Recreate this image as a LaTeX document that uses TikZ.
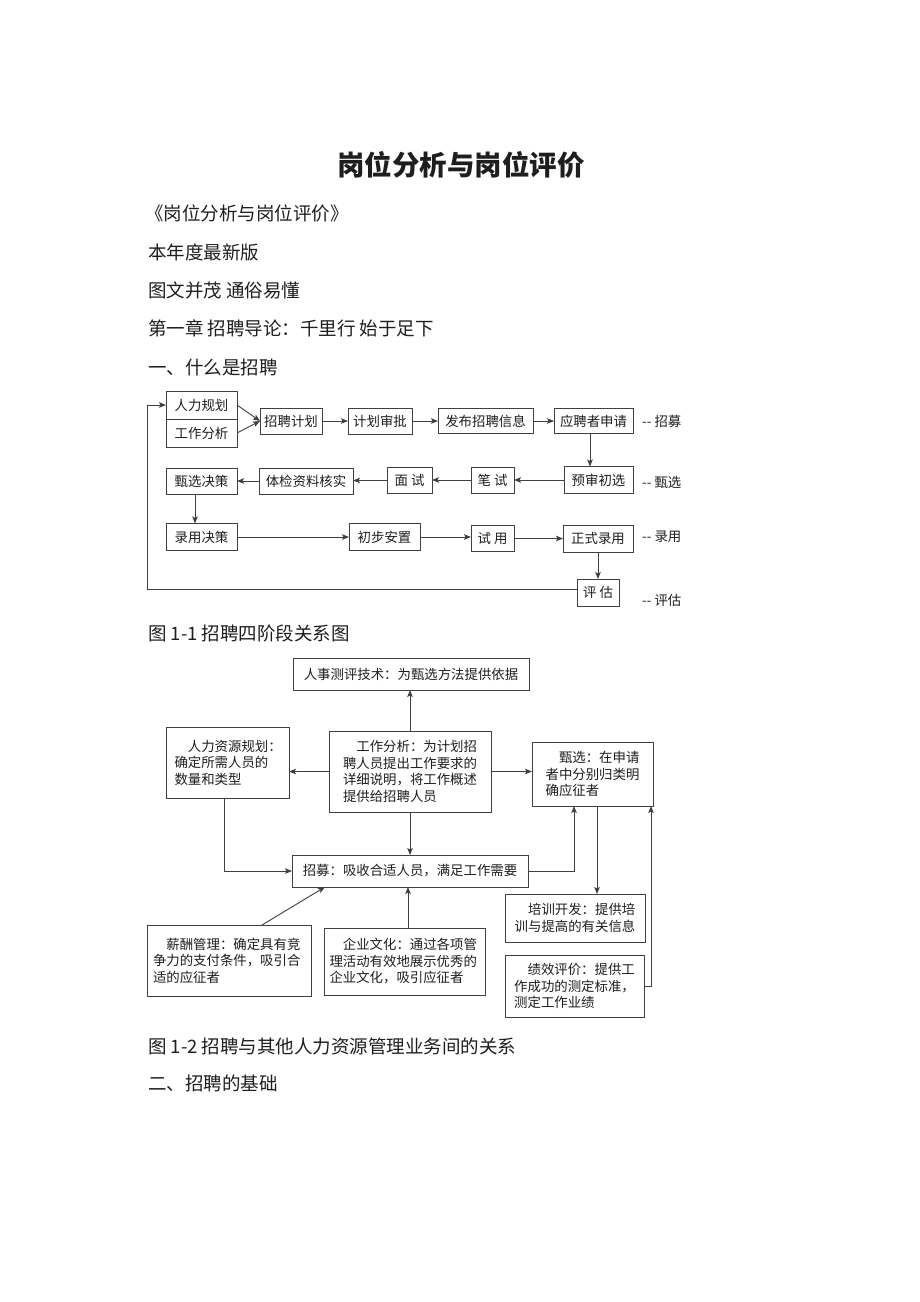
\documentclass[tikz,border=0pt]{standalone}
\usepackage{fontspec}
\setmainfont{Noto Sans CJK SC}
\usetikzlibrary{arrows.meta}
\newcommand\dgfont{\fontsize{13.4}{16.5}\selectfont}
\definecolor{linec}{HTML}{404040}
\definecolor{txt}{HTML}{1E1E1E}
\begin{document}
\begin{tikzpicture}[x=1pt,y=-1pt,
  box/.style={draw=linec, line width=0.95pt, inner sep=0pt, outer sep=0pt, font=\dgfont, text=txt},
  mbox/.style={box, align=left},
  arr/.style={draw=linec, line width=0.9pt, -{Stealth[length=7pt,width=5.5pt,inset=1.5pt]}},
  para/.style={anchor=west, inner sep=0pt, font=\fontsize{18.5}{22}\selectfont, text=txt},
  lbl/.style={anchor=west, inner sep=0pt, font=\dgfont, text=txt}]
\useasboundingbox[fill=white] (0,0) rectangle (920,1302);

% ---------- text ----------
\node[inner sep=0pt, font=\fontsize{27.5}{30}\selectfont\bfseries, text=txt] (title) at (461,165) {岗位分析与岗位评价};
\node[para] (p1) at (145,213) {《岗位分析与岗位评价》};
\node[para] (p2) at (148,252) {本年度最新版};
\node[para] (p3) at (148,290) {图文并茂 通俗易懂};
\node[para] (p4) at (148,328) {第一章 招聘导论：千里行 始于足下};
\node[para] (p5) at (148,367) {一、什么是招聘};
\node[para] (c1) at (148,633) {图 1-1 招聘四阶段关系图};
\node[para] (c2) at (148,1046) {图 1-2 招聘与其他人力资源管理业务间的关系};
\node[para] (p6) at (148,1083) {二、招聘的基础};

% ---------- diagram 1 ----------
\node[box, minimum width=71pt, minimum height=28pt] (rlgh) at (201.5,405) {人力规划};
\node[box, minimum width=71pt, minimum height=28pt] (gzfx1) at (201.5,433) {工作分析};
\node[box, minimum width=62pt, minimum height=26pt] (zpjh) at (291,421) {招聘计划};
\node[box, minimum width=64pt, minimum height=26pt] (jhsp) at (380,421) {计划审批};
\node[box, minimum width=95pt, minimum height=25pt] (fbxx) at (485.5,421) {发布招聘信息};
\node[box, minimum width=79pt, minimum height=25pt] (ypsq) at (593.5,421) {应聘者申请};
\node[lbl] (lzm) at (642,421) {-{}- 招募};

\node[box, minimum width=69pt, minimum height=27pt] (yscx) at (598.5,480) {预审初选};
\node[box, minimum width=43pt, minimum height=26pt] (bs) at (492.5,480) {笔 试};
\node[box, minimum width=45pt, minimum height=26pt] (ms) at (409.5,480.5) {面 试};
\node[box, minimum width=94pt, minimum height=26pt] (tjzl) at (306,481) {体检资料核实};
\node[box, minimum width=71pt, minimum height=26pt] (zxjc) at (201.5,481) {甄选决策};
\node[lbl] (lzx) at (642,482) {-{}- 甄选};

\node[box, minimum width=71pt, minimum height=27pt] (lyjc) at (201.5,537) {录用决策};
\node[box, minimum width=71pt, minimum height=27pt] (cbaz) at (384.5,537) {初步安置};
\node[box, minimum width=43pt, minimum height=26pt] (sy) at (492.5,538.5) {试 用};
\node[box, minimum width=70pt, minimum height=27pt] (zsly) at (598,538.5) {正式录用};
\node[lbl] (lly) at (642,537) {-{}- 录用};

\node[box, minimum width=42pt, minimum height=27pt] (pg) at (598,592.5) {评 估};
\node[lbl] (lpg) at (642,600) {-{}- 评估};
\coordinate (fbl) at (147,589);

\draw[arr] (rlgh.east) -- (zpjh.west);
\draw[arr] (gzfx1.east) -- (zpjh.west);
\draw[arr] (zpjh) -- (jhsp);
\draw[arr] (jhsp) -- (fbxx);
\draw[arr] (fbxx) -- (ypsq);
\draw[arr] ([xshift=-3.5pt]ypsq.south) -- ([xshift=-3.5pt]ypsq.south |- yscx.north);
\draw[arr] (yscx.west) -- (yscx.west -| bs.east);
\draw[arr] (bs.west) -- (bs.west -| ms.east);
\draw[arr] (ms.west) -- (ms.west -| tjzl.east);
\draw[arr] (tjzl.west) -- (tjzl.west -| zxjc.east);
\draw[arr] ([xshift=-6.5pt]zxjc.south) -- ([xshift=-6.5pt]zxjc.south |- lyjc.north);
\draw[arr] (lyjc.east) -- (lyjc.east -| cbaz.west);
\draw[arr] (cbaz.east) -- (cbaz.east -| sy.west);
\draw[arr] (sy.east) -- (sy.east -| zsly.west);
\draw[arr] (zsly.south) -- (zsly.south |- pg.north);
\draw[arr] ([yshift=3.5pt]pg.west) -- ([yshift=3.5pt]pg.west -| fbl) |- (rlgh.west);

% ---------- diagram 2 ----------
\node[box, minimum width=236pt, minimum height=32pt] (rscp) at (411,674) {人事测评技术：为甄选方法提供依据};
\node[mbox, minimum width=123pt, minimum height=71pt, text width=106pt] (rlzy) at (227.5,762.5)
  {\hspace*{1em}人力资源规划：\\确定所需人员的\\数量和类型};
\node[mbox, minimum width=162pt, minimum height=81pt, text width=134pt] (gzfx2) at (410,771.5)
  {\hspace*{1em}工作分析：为计划招\\聘人员提出工作要求的\\详细说明，将工作概述\\提供给招聘人员};
\node[mbox, minimum width=121pt, minimum height=64pt, text width=93.8pt] (zx) at (592.5,774)
  {\hspace*{1em}甄选：在申请\\者中分别归类明\\确应征者};
\node[box, minimum width=236pt, minimum height=32pt] (zm2) at (410,871) {招募：吸收合适人员，满足工作需要};
\node[mbox, minimum width=140pt, minimum height=48pt, text width=120.6pt] (px) at (575,918)
  {\hspace*{1em}培训开发：提供培\\训与提高的有关信息};
\node[mbox, minimum width=139pt, minimum height=62pt, text width=120.6pt] (jx) at (574.5,986)
  {\hspace*{1em}绩效评价：提供工\\作成功的测定标准，\\测定工作业绩};
\node[mbox, minimum width=164pt, minimum height=71pt, text width=152pt] (xc) at (229,960.5)
  {\hspace*{1em}薪酬管理：确定具有竞\\争力的支付条件，吸引合\\适的应征者};
\node[mbox, minimum width=161pt, minimum height=67pt, text width=150pt] (qywh) at (404.5,961.5)
  {\hspace*{1em}企业文化：通过各项管\\理活动有效地展示优秀的\\企业文化，吸引应征者};

\draw[arr] (gzfx2.north) -- (gzfx2.north |- rscp.south);
\draw[arr] (gzfx2.west) -- (gzfx2.west -| rlzy.east);
\draw[arr] (gzfx2.east) -- (gzfx2.east -| zx.west);
\draw[arr] ([xshift=-3.5pt]rlzy.south) |- (zm2.west);
\draw[arr] (gzfx2.south) -- (zm2.north);
\draw[arr] (zm2.east) -| ([xshift=-18.5pt]zx.south);
\draw[arr] ([xshift=4.5pt]zx.south) -- ([xshift=4.5pt]zx.south |- px.north);
\draw[arr] (jx.east) -| ([xshift=58.5pt]zx.south);
\draw[arr] ([xshift=33pt]xc.north) -- ([xshift=-85pt]zm2.south);
\draw[arr] ([xshift=3.5pt]qywh.north) -- ([xshift=3.5pt]qywh.north |- zm2.south);
\end{tikzpicture}
\end{document}
